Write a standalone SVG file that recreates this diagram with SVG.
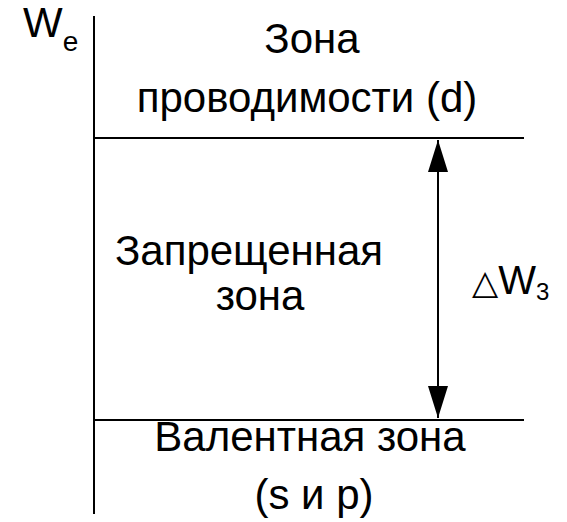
<svg xmlns="http://www.w3.org/2000/svg" width="567" height="522" viewBox="0 0 567 522">
  <style>
    .ln { stroke: #000; stroke-width: 2; fill: none; }
    .t { font-family: "Liberation Sans", Arial, sans-serif; font-size: 42px; fill: #000; }
    .c { text-anchor: middle; }
  </style>
  <defs>
    <marker id="head" viewBox="0 0 32 20" refX="32" refY="10" markerUnits="userSpaceOnUse" markerWidth="32" markerHeight="20" orient="auto-start-reverse">
      <path d="M0,0 L32,10 L0,20 Z" fill="#000"/>
    </marker>
  </defs>

  <!-- energy axis and band edges -->
  <g id="connectors">
    <line class="ln" x1="94" y1="16" x2="94" y2="514" stroke-width="2.5"/>
    <line class="ln" x1="94" y1="138" x2="524" y2="138"/>
    <line class="ln" x1="94" y1="420" x2="524" y2="420"/>
    <line class="ln" x1="438" y1="140" x2="438" y2="418" marker-start="url(#head)" marker-end="url(#head)"/>
  </g>

  <g id="axis-label">
    <text class="t" x="23" y="37" font-size="36">W<tspan font-size="28" dy="14">e</tspan></text>
  </g>

  <g id="conduction-band">
    <text class="t c" x="312" y="53">Зона</text>
    <text class="t c" x="307" y="112">проводимости (d)</text>
  </g>

  <g id="forbidden-band">
    <text class="t c" x="249" y="265">Запрещенная</text>
    <text class="t c" x="260" y="310">зона</text>
  </g>

  <g id="gap-label">
    <text class="t" x="472" y="294"><tspan font-family="DejaVu Sans, sans-serif" font-size="34">△</tspan><tspan font-size="40">W</tspan><tspan font-size="24" dy="6">3</tspan></text>
  </g>

  <g id="valence-band">
    <text class="t c" x="310" y="451">Валентная зона</text>
    <text class="t c" x="314" y="509">(s и p)</text>
  </g>
</svg>
